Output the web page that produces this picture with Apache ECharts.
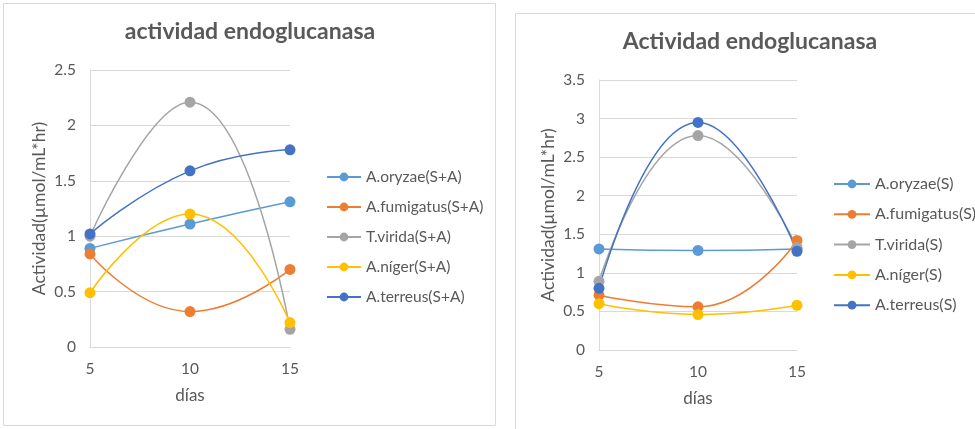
<!DOCTYPE html>
<html>
<head>
<meta charset="utf-8">
<script src="https://cdn.jsdelivr.net/npm/echarts@6/dist/echarts.min.js"></script>
<style>
html,body{margin:0;padding:0;background:#fff;}
#c{width:975px;height:429px;}
</style>
</head>
<body>
<div id="c"></div>
<script>
// ---- data ----
const days = [5, 10, 15];
const leftTitle = "actividad endoglucanasa";
const rightTitle = "Actividad endoglucanasa";
const leftNames = ["A.oryzae(S+A)", "A.fumigatus(S+A)", "T.virida(S+A)", "A.níger(S+A)", "A.terreus(S+A)"];
const rightNames = ["A.oryzae(S)", "A.fumigatus(S)", "T.virida(S)", "A.níger(S)", "A.terreus(S)"];
const leftOryzae = [0.89, 1.11, 1.31];
const leftFumigatus = [0.84, 0.32, 0.70];
const leftVirida = [1.00, 2.21, 0.16];
const leftNiger = [0.49, 1.20, 0.22];
const leftTerreus = [1.02, 1.59, 1.78];
const rightOryzae = [1.31, 1.29, 1.31];
const rightFumigatus = [0.71, 0.56, 1.42];
const rightVirida = [0.89, 2.78, 1.33];
const rightNiger = [0.60, 0.46, 0.58];
const rightTerreus = [0.80, 2.95, 1.28];
const leftYTicks = {min: 0, max: 2.5, interval: 0.5};
const rightYTicks = {min: 0, max: 3.5, interval: 0.5};
const xTicks = {min: 5, max: 15, interval: 5};
const yName = "Actividad(µmol/mL*hr)";
const xName = "días";

const colors = ["#5B9BD5", "#ED7D31", "#A5A5A5", "#FFC000", "#4472C4"];
const textColor = "#595959";
const font = "Lato";
const leftSets = [leftOryzae, leftFumigatus, leftVirida, leftNiger, leftTerreus];
const rightSets = [rightOryzae, rightFumigatus, rightVirida, rightNiger, rightTerreus];

function pairs(vals){ return days.map((d,i)=>[d, vals[i]]); }

function mkX(idx){
  return {
    gridIndex: idx, type: 'value', min: xTicks.min, max: xTicks.max, interval: xTicks.interval,
    name: xName, nameLocation: 'middle', nameGap: 40,
    nameTextStyle: {color: textColor, fontSize: 17, fontFamily: font},
    axisLine: {show: true, lineStyle: {color: '#D9D9D9', width: 1}},
    axisTick: {show: false},
    splitLine: {show: false},
    axisLabel: {color: textColor, fontSize: 15.5, fontFamily: font, margin: 14}
  };
}
function mkY(idx, t){
  return {
    gridIndex: idx, type: 'value', min: t.min, max: t.max, interval: t.interval,
    name: yName, nameLocation: 'middle', nameGap: 42, nameRotate: 90,
    nameTextStyle: {color: textColor, fontSize: 17.5, fontFamily: font},
    axisLine: {show: true, lineStyle: {color: '#D9D9D9', width: 1}},
    axisTick: {show: false},
    splitLine: {show: true, lineStyle: {color: '#D9D9D9', width: 1}},
    axisLabel: {color: textColor, fontSize: 15.5, fontFamily: font, margin: 14}
  };
}

const series = [];
leftSets.forEach((vals, i) => {
  series.push({
    name: leftNames[i], type: 'line', xAxisIndex: 0, yAxisIndex: 0,
    data: pairs(vals), smooth: 0.5, symbol: 'circle', symbolSize: 11,
    lineStyle: {width: 1.5, color: colors[i]}, itemStyle: {color: colors[i]}
  });
});
rightSets.forEach((vals, i) => {
  series.push({
    name: rightNames[i], type: 'line', xAxisIndex: 1, yAxisIndex: 1,
    data: pairs(vals), smooth: 0.5, symbol: 'circle', symbolSize: 11,
    lineStyle: {width: 1.5, color: colors[i]}, itemStyle: {color: colors[i]}
  });
});

const chart = echarts.init(document.getElementById('c'));
chart.setOption({
  animation: false,
  backgroundColor: '#fff',
  color: colors,
  graphic: [
    {type: 'rect', shape: {x: 3.5, y: 3.5, width: 492, height: 422}, style: {fill: 'none', stroke: '#D9D9D9', lineWidth: 1}, z: -10},
    {type: 'rect', shape: {x: 515.5, y: 13.5, width: 480, height: 440}, style: {fill: 'none', stroke: '#D9D9D9', lineWidth: 1}, z: -10}
  ],
  title: [
    {text: leftTitle, left: 250, top: 20, padding: 0, textAlign: 'center',
     textStyle: {color: textColor, fontSize: 23, fontWeight: 'bold', fontFamily: font}},
    {text: rightTitle, left: 750, top: 30, padding: 0, textAlign: 'center',
     textStyle: {color: textColor, fontSize: 23, fontWeight: 'bold', fontFamily: font}}
  ],
  legend: [
    {data: leftNames, orient: 'vertical', left: 326, top: 169, padding: 0, itemGap: 14, itemWidth: 34, itemHeight: 11,
     textStyle: {color: textColor, fontSize: 15.5, fontFamily: font}},
    {data: rightNames, orient: 'vertical', left: 833, top: 176, padding: 0, itemGap: 14.3, itemWidth: 36, itemHeight: 11,
     textStyle: {color: textColor, fontSize: 16, fontFamily: font}}
  ],
  grid: [
    {left: 90, right: 685, top: 70, bottom: 82},
    {left: 599, right: 178, top: 80, bottom: 79}
  ],
  xAxis: [mkX(0), mkX(1)],
  yAxis: [mkY(0, leftYTicks), mkY(1, rightYTicks)],
  series: series
});
</script>
</body>
</html>
